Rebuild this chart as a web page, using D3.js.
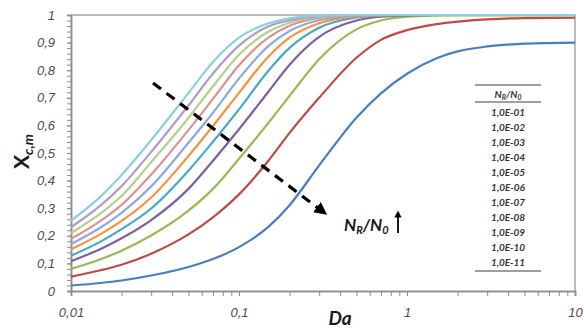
<!DOCTYPE html>
<html>
<head>
<meta charset="utf-8">
<script src="https://cdn.jsdelivr.net/npm/d3@7"></script>
<style>
  body { margin: 0; background: #fff; }
  svg { display: block; font-family: Lato, "Open Sans", sans-serif; }
</style>
</head>
<body>
<div id="chart"></div>
<script>
// Damkoehler number values where the curves were read
var da = [0.01, 0.015, 0.02, 0.03, 0.05, 0.07, 0.1, 0.15, 0.2, 0.3, 0.5, 0.7, 1, 1.5, 2, 3, 5, 10];

// X_c,m for each N_R/N_0 value
var x_1e01 = [0.02, 0.029, 0.038, 0.056, 0.087, 0.116, 0.159, 0.233, 0.311, 0.455, 0.628, 0.716, 0.787, 0.843, 0.868, 0.886, 0.896, 0.9];
var x_1e02 = [0.052, 0.075, 0.095, 0.135, 0.205, 0.267, 0.35, 0.473, 0.573, 0.70, 0.845, 0.91, 0.945, 0.967, 0.976, 0.984, 0.989, 0.99];
var x_1e03 = [0.08, 0.115, 0.146, 0.201, 0.291, 0.37, 0.479, 0.61, 0.707, 0.84, 0.948, 0.98, 0.994, 0.998, 0.999, 0.999, 0.999, 0.999];
var x_1e04 = [0.108, 0.152, 0.191, 0.257, 0.37, 0.472, 0.586, 0.723, 0.82, 0.921, 0.98, 0.994, 0.999, 1, 1, 1, 1, 1];
var x_1e05 = [0.128, 0.179, 0.224, 0.299, 0.436, 0.541, 0.658, 0.799, 0.881, 0.954, 0.991, 0.998, 1, 1, 1, 1, 1, 1];
var x_1e06 = [0.151, 0.206, 0.254, 0.339, 0.489, 0.598, 0.718, 0.85, 0.918, 0.97, 0.995, 0.999, 1, 1, 1, 1, 1, 1];
var x_1e07 = [0.17, 0.23, 0.283, 0.379, 0.537, 0.646, 0.77, 0.888, 0.942, 0.981, 0.997, 1, 1, 1, 1, 1, 1, 1];
var x_1e08 = [0.189, 0.254, 0.312, 0.422, 0.583, 0.696, 0.818, 0.919, 0.961, 0.989, 0.999, 1, 1, 1, 1, 1, 1, 1];
var x_1e09 = [0.21, 0.281, 0.344, 0.467, 0.627, 0.742, 0.856, 0.94, 0.972, 0.993, 1, 1, 1, 1, 1, 1, 1, 1];
var x_1e10 = [0.231, 0.31, 0.38, 0.504, 0.672, 0.788, 0.889, 0.959, 0.981, 0.996, 1, 1, 1, 1, 1, 1, 1, 1];
var x_1e11 = [0.255, 0.342, 0.42, 0.547, 0.717, 0.83, 0.918, 0.97, 0.988, 0.998, 1, 1, 1, 1, 1, 1, 1, 1];

var seriesNames = ["1,0E-01", "1,0E-02", "1,0E-03", "1,0E-04", "1,0E-05", "1,0E-06",
                   "1,0E-07", "1,0E-08", "1,0E-09", "1,0E-10", "1,0E-11"];
var seriesValues = [x_1e01, x_1e02, x_1e03, x_1e04, x_1e05, x_1e06, x_1e07, x_1e08, x_1e09, x_1e10, x_1e11];
var seriesColors = ["#4a7ebb", "#be4b48", "#98b954", "#7d60a0", "#46aac5", "#f69240",
                    "#8eaadb", "#d99391", "#b4d08a", "#ae9ccb", "#8ccfe0"];

var xTicks = [0.01, 0.1, 1, 10];
var xTickLabels = ["0,01", "0,1", "1", "10"];
var yTicks = [0, 0.1, 0.2, 0.3, 0.4, 0.5, 0.6, 0.7, 0.8, 0.9, 1];
var yTickLabels = ["0", "0,1", "0,2", "0,3", "0,4", "0,5", "0,6", "0,7", "0,8", "0,9", "1"];

var width = 584,
    height = 329;
var plot = { left: 71, right: 575, top: 15, bottom: 291 };
var axisColor = "#8c8c8c",
    labelColor = "#4d4d4d";

var svg = d3.select("#chart").append("svg")
  .attr("width", width)
  .attr("height", height);

var x = d3.scaleLog().domain([0.01, 10]).range([plot.left, plot.right]);
var y = d3.scaleLinear().domain([0, 1]).range([plot.bottom, plot.top]);

drawFrame();
drawAxes();
drawCurves();
drawArrow();
drawLegend();
drawTitles();

function drawFrame() {
  svg.append("path")
    .attr("d", "M" + plot.left + "," + plot.top + "H" + plot.right + "V" + plot.bottom)
    .attr("fill", "none")
    .attr("stroke", "#a6a6a6")
    .attr("stroke-width", 1.5);
}

function styleAxis(g) {
  g.select(".domain").attr("stroke", axisColor).attr("stroke-width", 1.5);
  g.selectAll(".tick line").attr("stroke", axisColor).attr("stroke-width", 1);
  g.selectAll(".tick text")
    .attr("fill", labelColor)
    .attr("font-size", "13px")
    .attr("font-style", "italic");
}

function drawAxes() {
  var yMinor = d3.range(0, 50).map(function(i) { return i / 50; });
  svg.append("g")
    .attr("transform", "translate(" + plot.left + ",0)")
    .call(d3.axisLeft(y).tickValues(yMinor).tickSize(4).tickFormat(""))
    .call(styleAxis);
  svg.append("g")
    .attr("transform", "translate(" + plot.left + ",0)")
    .call(d3.axisLeft(y)
      .tickValues(yTicks)
      .tickSize(4)
      .tickPadding(12)
      .tickFormat(function(d, i) { return yTickLabels[i]; }))
    .call(styleAxis);

  var xMinor = [];
  [0.01, 0.1, 1].forEach(function(decade) {
    for (var k = 2; k <= 9; k++) xMinor.push(decade * k);
  });
  svg.append("g")
    .attr("transform", "translate(0," + plot.bottom + ")")
    .call(d3.axisBottom(x).tickValues(xMinor).tickSize(5).tickFormat(""))
    .call(styleAxis);
  svg.append("g")
    .attr("transform", "translate(0," + plot.bottom + ")")
    .call(d3.axisBottom(x)
      .tickValues(xTicks)
      .tickSize(5)
      .tickPadding(12)
      .tickFormat(function(d, i) { return xTickLabels[i]; }))
    .call(styleAxis);
}

function drawCurves() {
  var line = d3.line()
    .x(function(d) { return x(d[0]); })
    .y(function(d) { return y(d[1]); })
    .curve(d3.curveMonotoneX);

  seriesValues.forEach(function(values, i) {
    var points = da.map(function(d, j) { return [d, values[j]]; });
    svg.append("path")
      .datum(points)
      .attr("d", line)
      .attr("fill", "none")
      .attr("stroke", seriesColors[i])
      .attr("stroke-width", 2.2);
  });
}

function drawArrow() {
  var defs = svg.append("defs");
  defs.append("marker")
    .attr("id", "head")
    .attr("viewBox", "0 0 10 10")
    .attr("refX", 5).attr("refY", 5)
    .attr("markerWidth", 4).attr("markerHeight", 4)
    .attr("orient", "auto")
    .append("path")
      .attr("d", "M0,0L10,5L0,10Z")
      .attr("fill", "#000");

  svg.append("line")
    .attr("x1", 153).attr("y1", 83)
    .attr("x2", 322).attr("y2", 211)
    .attr("stroke", "#000")
    .attr("stroke-width", 3.2)
    .attr("stroke-dasharray", "10,7")
    .attr("marker-end", "url(#head)");

  var label = svg.append("text")
    .attr("x", 344).attr("y", 231)
    .attr("font-size", "17px")
    .attr("font-weight", "bold")
    .attr("font-style", "italic")
    .attr("fill", "#1a1a1a");
  label.append("tspan").text("N");
  label.append("tspan").attr("font-size", "11px").attr("dy", 3).text("R");
  label.append("tspan").attr("dy", -3).text("/N");
  label.append("tspan").attr("font-size", "11px").attr("dy", 3).text("0");

  svg.append("line")
    .attr("x1", 398).attr("y1", 233)
    .attr("x2", 398).attr("y2", 214)
    .attr("stroke", "#000")
    .attr("stroke-width", 1.8)
    .attr("marker-end", "url(#head)");
}

function drawLegend() {
  var left = 475, right = 541, cx = (left + right) / 2;
  var rowTop = 112, rowStep = 15.05;
  var g = svg.append("g")
    .attr("font-size", "10px")
    .attr("font-weight", "bold")
    .attr("font-style", "italic")
    .attr("fill", "#333");

  [85, 102, 271].forEach(function(ly) {
    g.append("line")
      .attr("x1", left).attr("x2", right)
      .attr("y1", ly).attr("y2", ly)
      .attr("stroke", "#7f7f7f")
      .attr("stroke-width", 1.5);
  });

  var head = g.append("text")
    .attr("x", cx).attr("y", 98)
    .attr("text-anchor", "middle");
  head.append("tspan").text("N");
  head.append("tspan").attr("font-size", "7px").attr("dy", 2).text("R");
  head.append("tspan").attr("dy", -2).text("/N");
  head.append("tspan").attr("font-size", "7px").attr("dy", 2).text("0");

  g.selectAll("text.entry")
    .data(seriesNames)
    .enter()
      .append("text")
      .attr("class", "entry")
      .attr("x", cx)
      .attr("y", function(d, i) { return rowTop + i * rowStep + 3.5; })
      .attr("text-anchor", "middle")
      .text(function(d) { return d; });
}

function drawTitles() {
  svg.append("text")
    .attr("x", 340).attr("y", 325)
    .attr("text-anchor", "middle")
    .attr("font-size", "19px")
    .attr("font-weight", "bold")
    .attr("font-style", "italic")
    .attr("fill", "#1a1a1a")
    .text("Da");

  var t = svg.append("text")
    .attr("transform", "translate(29,169) rotate(-90)")
    .attr("font-weight", "bold")
    .attr("fill", "#1a1a1a");
  t.append("tspan").attr("font-size", "21px").text("X");
  t.append("tspan")
    .attr("font-size", "14px")
    .attr("font-style", "italic")
    .attr("dy", 4)
    .text("c,m");
}
</script>
</body>
</html>
